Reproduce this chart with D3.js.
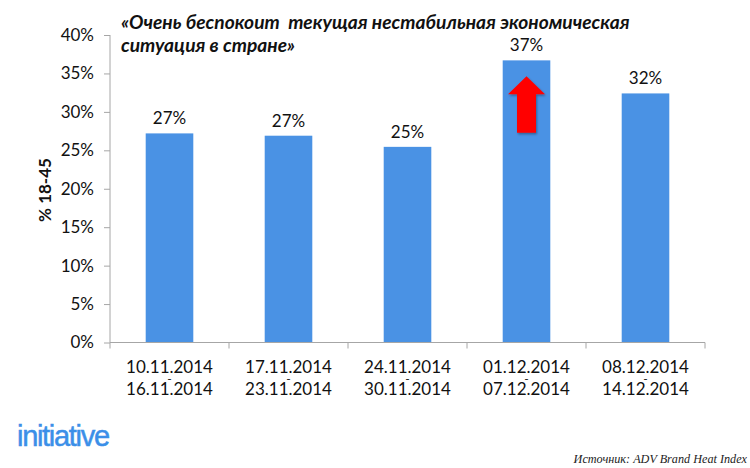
<!DOCTYPE html>
<html><head><meta charset="utf-8">
<script src="https://cdn.jsdelivr.net/npm/d3@7/dist/d3.min.js"></script>
<style>body{margin:0;background:#fff;} svg{display:block;}</style>
</head><body>
<script>
const categoriesStart = ["10.11.2014","17.11.2014","24.11.2014","01.12.2014","08.12.2014"];
const categoriesEnd   = ["16.11.2014","23.11.2014","30.11.2014","07.12.2014","14.12.2014"];
const values = [27.2, 26.9, 25.45, 36.7, 32.4];
const yTicks = [0,5,10,15,20,25,30,35,40];
const titleLines = ["«Очень беспокоит  текущая нестабильная экономическая","ситуация в стране»"];
const yTitle = "% 18-45";
const source = "Источник: ADV Brand Heat Index";
const logo = "initiative";
const arrowRange = [27.3, 34.65]; // arrow from/to (value units) on the 4th bar

const W=750,H=468;
const svg=d3.select("body").append("svg").attr("width",W).attr("height",H);
const font="Lato, 'Open Sans', sans-serif";
const x=d3.scaleBand().domain(categoriesStart).range([110,705]).paddingInner(0.6).paddingOuter(0.3);
const y=d3.scaleLinear().domain([0,40]).range([342.5,35]);
const axisColor="#a6a6a6";

// bars
svg.selectAll("rect.bar").data(values).enter().append("rect")
  .attr("x",(d,i)=>x(categoriesStart[i])).attr("width",x.bandwidth())
  .attr("y",d=>y(d)).attr("height",d=>y(0)-y(d)).attr("fill","#4a92e4");

// value labels
svg.selectAll("text.val").data(values).enter().append("text")
  .attr("x",(d,i)=>x(categoriesStart[i])+x.bandwidth()/2).attr("y",d=>y(d)-9)
  .attr("text-anchor","middle").attr("font-family",font).attr("font-size",17).attr("fill","#111")
  .text(d=>Math.round(d)+"%");

// y axis
const yAxis=d3.axisLeft(y).tickValues(yTicks).tickFormat(d=>d+"%").tickSize(6).tickPadding(10);
const gy=svg.append("g").attr("transform","translate(110,0)").call(yAxis);
gy.select(".domain").attr("stroke",axisColor).attr("d","M0,"+y(40)+"V"+y(0));
gy.selectAll(".tick line").attr("stroke",axisColor);
gy.selectAll(".tick text").attr("font-family",font).attr("font-size",17).attr("fill","#111");

// x axis
const xAxis=d3.axisBottom(x).tickSize(0).tickFormat("");
const gx=svg.append("g").attr("transform","translate(0,"+y(0)+")").call(xAxis);
gx.select(".domain").attr("stroke",axisColor).attr("d","M110,0H705");
const bounds=categoriesStart.map(c=>x(c)-x.step()*x.paddingInner()/2);
bounds.push(705);
bounds[0]=110;
gx.selectAll("line.bt").data(bounds).enter().append("line").attr("class","bt")
  .attr("x1",d=>d).attr("x2",d=>d).attr("y1",0).attr("y2",6).attr("stroke",axisColor);

// x labels (single text element with three lines)
categoriesStart.forEach((c,i)=>{
  const cx=x(c)+x.bandwidth()/2;
  const t=svg.append("text").attr("x",cx).attr("y",373).attr("text-anchor","middle")
    .attr("font-family",font).attr("font-size",17).attr("fill","#111");
  t.append("tspan").attr("x",cx).attr("dy",0).text(c);
  t.append("tspan").attr("x",cx).attr("dy",10).attr("font-size",12).text("-");
  t.append("tspan").attr("x",cx).attr("dy",12).text(categoriesEnd[i]);
});

// y title
svg.append("text").attr("transform","translate(51,190) rotate(-90)").attr("text-anchor","middle")
  .attr("font-family",font).attr("font-size",17).attr("font-weight","bold").attr("fill","#111").text(yTitle);

// title
titleLines.forEach((t,i)=>{
  svg.append("text").attr("x",121).attr("y",29+i*23).attr("font-family",font)
    .attr("font-size",19.2).attr("font-weight","bold").attr("font-style","italic")
    .attr("fill","#111").attr("xml:space","preserve").style("white-space","pre").text(t);
});

// red arrow on 4th bar
const ac=x(categoriesStart[3])+x.bandwidth()/2;
const aTop=y(arrowRange[1]), aBot=y(arrowRange[0]);
const headH=18, headHalf=18.5, shaftHalf=9.5;
const arrowPath=d3.path();
arrowPath.moveTo(ac,aTop);
arrowPath.lineTo(ac+headHalf,aTop+headH);
arrowPath.lineTo(ac+shaftHalf,aTop+headH);
arrowPath.lineTo(ac+shaftHalf,aBot);
arrowPath.lineTo(ac-shaftHalf,aBot);
arrowPath.lineTo(ac-shaftHalf,aTop+headH);
arrowPath.lineTo(ac-headHalf,aTop+headH);
arrowPath.closePath();
const defs=svg.append("defs");
const f=defs.append("filter").attr("id","sh").attr("x","-30%").attr("y","-30%").attr("width","160%").attr("height","160%");
f.append("feDropShadow").attr("dx",1).attr("dy",1.5).attr("stdDeviation",1.2).attr("flood-color","#000").attr("flood-opacity",0.35);
svg.append("path").attr("d",arrowPath.toString()).attr("fill","#ff0000").attr("filter","url(#sh)");

// logo
svg.append("text").attr("x",17).attr("y",446).attr("font-family","'Liberation Sans', Arial, sans-serif")
  .attr("font-size",29).attr("letter-spacing",-1.3).attr("fill","#3b8fe8")
  .attr("stroke","#3b8fe8").attr("stroke-width",0.5).text(logo);

// source
svg.append("text").attr("x",747).attr("y",463).attr("text-anchor","end")
  .attr("font-family","'Liberation Serif', 'Times New Roman', serif").attr("font-style","italic")
  .attr("font-size",12.2).attr("fill","#222").text(source);
</script>
</body></html>
